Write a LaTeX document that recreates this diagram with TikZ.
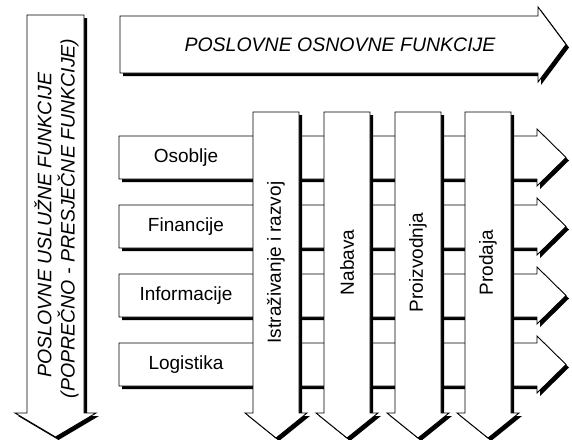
\documentclass[tikz,border=0pt]{standalone}
\usepackage{fontspec}
\setmainfont{Liberation Sans}
\usetikzlibrary{shadows}
\tikzset{
  shp/.style={fill=white, draw=black, line width=0.9pt, line join=miter,
    drop shadow={shadow xshift=3pt, shadow yshift=-3pt, fill=black, opacity=1}},
  lbl/.style={font=\fontsize{19}{22}\selectfont, inner sep=0pt},
  ttl/.style={font=\fontsize{19.5}{24}\selectfont\itshape, inner sep=0pt},
}
\begin{document}
\begin{tikzpicture}[x=1pt,y=-1pt]
\useasboundingbox (0,0) rectangle (572,439);
% left arrow (service functions)
\path[shp] (27,15) -- (84,15) -- (84,413) -- (96,413) -- (55.5,437) -- (15,413) -- (27,413) -- cycle;
\node[ttl, rotate=90] (usl) at (43,225) {POSLOVNE USLUŽNE FUNKCIJE};
\node[ttl, rotate=90] (pop) at (68,218.5) {(POPREČNO - PRESJEČNE FUNKCIJE)};
% top arrow (basic functions)
\path[shp] (120,16) -- (538,16) -- (538,7) -- (566,44.5) -- (538,82) -- (538,73) -- (120,73) -- cycle;
\node[ttl] (osn) at (340,45) {POSLOVNE OSNOVNE FUNKCIJE};
% rows
\foreach \t/\n/\txt in {136/osoblje/Osoblje, 205/fin/Financije, 274/inf/Informacije, 343/log/Logistika} {
  \path[shp] (119,\t) -- (537,\t) -- (537,\t-7) -- (566,\t+21.5) -- (537,\t+50) -- (537,\t+43) -- (119,\t+43) -- cycle;
  \node[lbl] (\n) at (186,\t+21.5) {\txt};
}
% columns
\foreach \l/\n/\txt in {253/istr/Istraživanje i razvoj, 324/nab/Nabava, 395/proiz/Proizvodnja, 465/prod/Prodaja} {
  \path[shp] (\l,112) -- (\l+46,112) -- (\l+46,413) -- (\l+54,413) -- (\l+23,438) -- (\l-8,413) -- (\l,413) -- cycle;
  \node[lbl, rotate=90] (\n) at (\l+23,262.5) {\txt};
}
\end{tikzpicture}
\end{document}
